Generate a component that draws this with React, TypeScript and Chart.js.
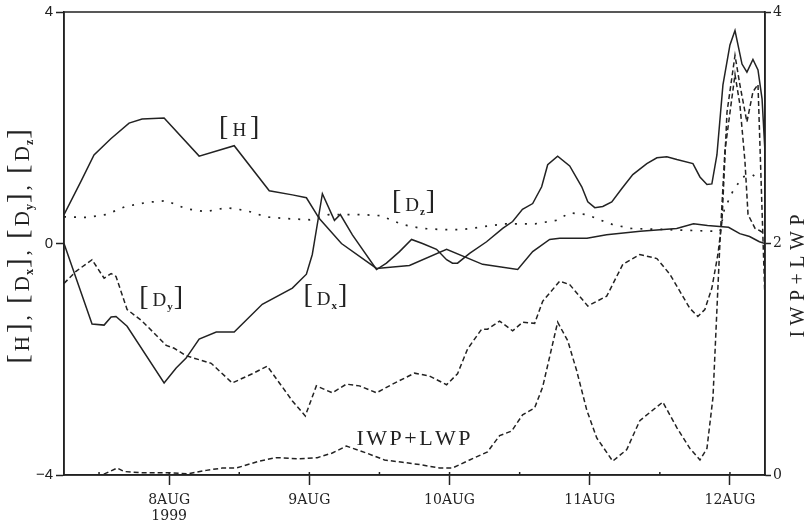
import React, { useEffect, useRef } from 'react';
import { Chart, registerables } from 'chart.js';
Chart.register(...registerables);

// time axis: days relative to 8 AUG 1999 00Z
const xMin = -0.75;
const xMax = 4.25;
const dayTicks = [0, 1, 2, 3, 4];
const dayLabels: (string | string[])[] = [['8AUG', '1999'], '9AUG', '10AUG', '11AUG', '12AUG'];
const minorTicks = [-0.5, 0, 0.5, 1, 1.5, 2, 2.5, 3, 3.5, 4];
const leftTicks = [-4, 0, 4];
const rightTicks = [0, 2, 4];

const hTime = [-0.75, -0.63, -0.536, -0.416, -0.286, -0.193, -0.036, 0.214, 0.464, 0.714, 0.879, 0.979, 1.071, 1.229, 1.479, 1.714, 1.979, 2.236, 2.486, 2.593, 2.714, 2.786, 2.98, 3.12, 3.36, 3.62, 3.74, 3.84, 3.99, 4.07, 4.14, 4.21, 4.25];
const hValue = [0.5, 1.07, 1.53, 1.81, 2.08, 2.15, 2.17, 1.51, 1.69, 0.91, 0.84, 0.79, 0.43, 0, -0.43, -0.38, -0.1, -0.36, -0.45, -0.14, 0.07, 0.09, 0.09, 0.15, 0.21, 0.26, 0.34, 0.31, 0.28, 0.17, 0.12, 0.03, 0];

const dxTime = [-0.75, -0.55, -0.464, -0.414, -0.379, -0.3, -0.036, 0.05, 0.121, 0.214, 0.336, 0.464, 0.664, 0.879, 0.979, 1.021, 1.036, 1.093, 1.179, 1.221, 1.307, 1.479, 1.55, 1.643, 1.729, 1.807, 1.907, 1.979, 2.021, 2.057, 2.143, 2.264, 2.379, 2.45, 2.52, 2.593, 2.657, 2.7, 2.771, 2.857, 2.943, 2.986, 3.036, 3.093, 3.157, 3.229, 3.307, 3.407, 3.479, 3.55, 3.621, 3.736, 3.786, 3.836, 3.871, 3.907, 3.95, 4.0, 4.036, 4.086, 4.121, 4.164, 4.2, 4.229, 4.25];
const dxValue = [0, -1.39, -1.41, -1.27, -1.26, -1.43, -2.41, -2.15, -1.98, -1.65, -1.53, -1.53, -1.05, -0.77, -0.53, -0.19, 0.03, 0.86, 0.4, 0.5, 0.15, -0.45, -0.34, -0.14, 0.07, 0, -0.1, -0.28, -0.34, -0.34, -0.17, 0.03, 0.26, 0.38, 0.59, 0.69, 0.98, 1.36, 1.51, 1.34, 0.98, 0.72, 0.62, 0.64, 0.72, 0.95, 1.19, 1.38, 1.48, 1.5, 1.45, 1.38, 1.15, 1.02, 1.03, 1.53, 2.74, 3.43, 3.68, 3.1, 2.96, 3.18, 3.0, 2.5, 1.58];

const dyTime = [-0.75, -0.664, -0.55, -0.464, -0.414, -0.379, -0.3, -0.193, -0.021, 0.036, 0.121, 0.3, 0.45, 0.593, 0.7, 0.879, 0.971, 1.05, 1.164, 1.264, 1.357, 1.479, 1.593, 1.75, 1.857, 1.979, 2.057, 2.129, 2.229, 2.271, 2.357, 2.45, 2.521, 2.607, 2.664, 2.786, 2.857, 2.986, 3.121, 3.236, 3.357, 3.479, 3.571, 3.714, 3.771, 3.821, 3.871, 3.914, 3.943, 3.979, 4.036, 4.071, 4.121, 4.164, 4.2, 4.25];
const dyValue = [-0.69, -0.48, -0.28, -0.6, -0.52, -0.57, -1.14, -1.34, -1.76, -1.81, -1.94, -2.07, -2.41, -2.25, -2.12, -2.72, -2.98, -2.46, -2.58, -2.43, -2.46, -2.58, -2.43, -2.24, -2.29, -2.44, -2.25, -1.82, -1.48, -1.48, -1.34, -1.51, -1.36, -1.38, -1.0, -0.65, -0.71, -1.08, -0.91, -0.36, -0.19, -0.26, -0.53, -1.12, -1.26, -1.14, -0.77, -0.19, 0.38, 2.27, 3.25, 2.74, 2.1, 2.62, 2.75, -1.0];

const dzTime = [-0.75, -0.59, -0.45, -0.31, -0.16, -0.02, 0.12, 0.26, 0.41, 0.55, 0.69, 0.84, 1.0, 1.14, 1.37, 1.51, 1.66, 1.8, 1.95, 2.09, 2.24, 2.39, 2.61, 2.76, 2.86, 2.98, 3.07, 3.16, 3.29, 3.55, 3.79, 3.93, 3.96, 4.02, 4.09, 4.16, 4.21];
const dzValue = [0.46, 0.45, 0.5, 0.64, 0.71, 0.74, 0.6, 0.55, 0.62, 0.57, 0.46, 0.43, 0.41, 0.5, 0.5, 0.48, 0.33, 0.26, 0.24, 0.24, 0.29, 0.34, 0.34, 0.4, 0.53, 0.5, 0.41, 0.33, 0.26, 0.24, 0.22, 0.21, 0.59, 0.9, 1.15, 1.19, 1.1];

const iwpTime = [-0.75, -0.479, -0.371, -0.321, -0.193, 0, 0.129, 0.264, 0.379, 0.479, 0.643, 0.764, 0.929, 1.057, 1.164, 1.264, 1.407, 1.536, 1.664, 1.786, 1.929, 2.021, 2.143, 2.271, 2.357, 2.443, 2.521, 2.607, 2.664, 2.729, 2.771, 2.843, 2.907, 2.979, 3.05, 3.164, 3.264, 3.357, 3.521, 3.621, 3.714, 3.786, 3.836, 3.879, 3.929, 3.964, 4.036, 4.071, 4.107, 4.129, 4.179, 4.214, 4.25];
const iwpValue = [0, 0, 0.06, 0.03, 0.02, 0.02, 0.01, 0.04, 0.06, 0.06, 0.12, 0.15, 0.14, 0.15, 0.19, 0.25, 0.19, 0.13, 0.11, 0.09, 0.06, 0.06, 0.13, 0.2, 0.34, 0.38, 0.52, 0.58, 0.76, 1.1, 1.32, 1.16, 0.9, 0.56, 0.32, 0.12, 0.22, 0.47, 0.63, 0.41, 0.23, 0.13, 0.23, 0.67, 2.02, 2.8, 3.46, 3.2, 2.71, 2.25, 2.13, 2.11, 2.08];

// in-plot curve labels (text, anchor in data coordinates)
const curveLabelText = ['[H]', '[D_z]', '[D_y]', '[D_x]', 'IWP+LWP'];
const curveLabelX = [0.5, 1.743, -0.057, 1.114, 1.743];
const curveLabelY = [1.96, 0.67, -0.98, -0.95, -3.36];
const leftTitle = '[H], [D_x], [D_y], [D_z]';
const rightTitle = 'IWP+LWP';

const INK = '#222';
const SERIF = '"Liberation Serif", "DejaVu Serif", serif';

type Seg = { t: string; size: number; dy: number; bold: boolean; gap: number };

function parseRich(text: string, base: number, bracket: number, sub: number, gap: number): Seg[] {
  const segs: Seg[] = [];
  for (let i = 0; i < text.length; i++) {
    const c = text[i];
    if (c === '_') {
      i++;
      segs.push({ t: text[i], size: sub, dy: sub * 0.35, bold: true, gap: 1 });
    } else if (c === '[' || c === ']') {
      segs.push({ t: c, size: bracket, dy: -bracket * 0.06, bold: false, gap: c === ']' && segs.length && segs[segs.length - 1].bold ? 1 : gap });
    } else {
      segs.push({ t: c, size: base, dy: 0, bold: false, gap });
    }
  }
  return segs;
}

function drawRich(ctx: CanvasRenderingContext2D, segs: Seg[], cx: number, cy: number, base: number, rot: number) {
  ctx.save();
  ctx.translate(cx, cy);
  if (rot) ctx.rotate(rot);
  ctx.fillStyle = INK;
  ctx.textBaseline = 'alphabetic';
  ctx.textAlign = 'left';
  const widths = segs.map((s) => {
    ctx.font = `${s.bold ? 'bold ' : ''}${s.size}px ${SERIF}`;
    return ctx.measureText(s.t).width;
  });
  let total = 0;
  segs.forEach((s, i) => { total += widths[i] + (i > 0 ? s.gap : 0); });
  let x = -total / 2;
  const baseY = base * 0.33;
  segs.forEach((s, i) => {
    if (i > 0) x += s.gap;
    ctx.font = `${s.bold ? 'bold ' : ''}${s.size}px ${SERIF}`;
    ctx.fillText(s.t, x, baseY + s.dy);
    x += widths[i];
  });
  ctx.restore();
}

const decorPlugin = {
  id: 'decor',
  afterDatasetsDraw(chart: any) {
    const { ctx, chartArea } = chart;
    const xs = chart.scales.x;
    const ys = chart.scales.y;
    ctx.save();
    // frame
    ctx.strokeStyle = INK;
    ctx.lineWidth = 1.5;
    ctx.strokeRect(chartArea.left, chartArea.top, chartArea.right - chartArea.left, chartArea.bottom - chartArea.top);
    // minor inward ticks on time axis
    minorTicks.forEach((v) => {
      const px = xs.getPixelForValue(v);
      ctx.beginPath();
      ctx.moveTo(px, chartArea.bottom);
      ctx.lineTo(px, chartArea.bottom - 3);
      ctx.stroke();
    });
    // curve labels
    curveLabelText.forEach((t, i) => {
      const isIwp = t.indexOf('IWP') >= 0;
      const segs = isIwp ? parseRich(t, 22, 22, 12, 2.5) : parseRich(t, 19, 28, 11, 4);
      drawRich(ctx, segs, xs.getPixelForValue(curveLabelX[i]), ys.getPixelForValue(curveLabelY[i]), isIwp ? 22 : 19, 0);
    });
    // axis titles
    drawRich(ctx, parseRich(leftTitle, 21, 29, 12, 3), 22, (chartArea.top + chartArea.bottom) / 2 + 3, 21, -Math.PI / 2);
    drawRich(ctx, parseRich(rightTitle, 20, 20, 11, 5.5), 797, 276, 20, -Math.PI / 2);
    ctx.restore();
  },
};

const pts = (xs: number[], ys: number[]) => xs.map((x, i) => ({ x, y: ys[i] }));

export default function App() {
  const ref = useRef<HTMLCanvasElement | null>(null);
  useEffect(() => {
    if (!ref.current) return;
    const line = { borderColor: INK, borderWidth: 1.5, pointRadius: 0, tension: 0, fill: false };
    const chart = new Chart(ref.current, {
      type: 'line',
      data: {
        datasets: [
          { ...line, label: 'IWP+LWP', data: pts(iwpTime, iwpValue), yAxisID: 'y2', borderDash: [5, 3] },
          { ...line, label: '[Dy]', data: pts(dyTime, dyValue), yAxisID: 'y', borderDash: [5, 3] },
          { ...line, label: '[Dz]', data: pts(dzTime, dzValue), yAxisID: 'y', borderDash: [2, 8], borderWidth: 1.7 },
          { ...line, label: '[Dx]', data: pts(dxTime, dxValue), yAxisID: 'y' },
          { ...line, label: '[H]', data: pts(hTime, hValue), yAxisID: 'y' },
        ] as any,
      },
      options: {
        responsive: false,
        animation: false,
        events: [],
        layout: { padding: { top: 10, left: 0, right: 0, bottom: 0 } },
        plugins: { legend: { display: false }, tooltip: { enabled: false }, title: { display: false } },
        scales: {
          x: {
            type: 'linear',
            min: xMin,
            max: xMax,
            afterBuildTicks: (s: any) => { s.ticks = dayTicks.map((v) => ({ value: v })); },
            afterFit: (s: any) => { s.height = 52; },
            ticks: {
              callback: (_v: any, i: number) => dayLabels[i],
              font: { family: '"DejaVu Serif", serif', size: 14, lineHeight: 1.1 },
              color: INK,
              padding: 8,
              maxRotation: 0,
              autoSkip: false,
            },
            grid: { drawOnChartArea: false, tickLength: 10, tickColor: INK, tickWidth: 1.5 },
            border: { color: INK, width: 1.5 },
          },
          y: {
            position: 'left',
            min: -4,
            max: 4,
            afterBuildTicks: (s: any) => { s.ticks = leftTicks.map((v) => ({ value: v })); },
            afterFit: (s: any) => { s.width = 64; },
            ticks: {
              callback: (v: any) => (v < 0 ? '\u2212' + Math.abs(v) : String(v)),
              font: { family: '"Liberation Sans", Arial, sans-serif', size: 15 },
              color: INK,
              padding: 3,
            },
            grid: { drawOnChartArea: false, tickLength: 8, tickColor: INK, tickWidth: 1.5 },
            border: { color: INK, width: 1.5 },
          },
          y2: {
            position: 'right',
            min: 0,
            max: 4,
            afterBuildTicks: (s: any) => { s.ticks = rightTicks.map((v) => ({ value: v })); },
            afterFit: (s: any) => { s.width = 46; },
            ticks: {
              callback: (v: any) => String(v),
              font: { family: '"DejaVu Serif", serif', size: 14 },
              color: INK,
              padding: 2,
            },
            grid: { drawOnChartArea: false, tickLength: 6, tickColor: INK, tickWidth: 1.5 },
            border: { color: INK, width: 1.5 },
          },
        },
      } as any,
      plugins: [decorPlugin],
    });
    return () => chart.destroy();
  }, []);
  return (
    <div style={{ position: 'absolute', left: 0, top: 0, width: 811, height: 527, background: '#fff' }}>
      <canvas ref={ref} width={811} height={527} style={{ display: 'block' }} />
    </div>
  );
}
